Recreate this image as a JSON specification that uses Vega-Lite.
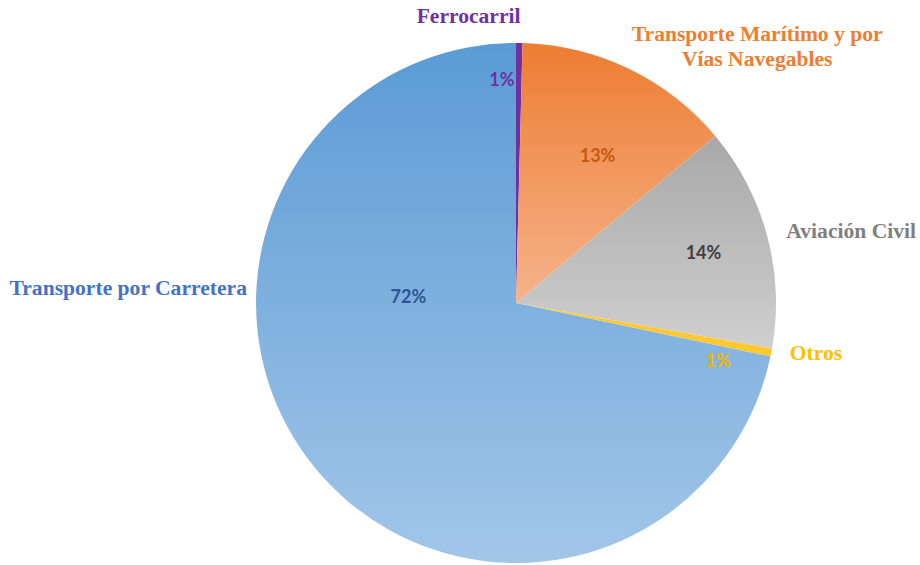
{
  "$schema": "https://vega.github.io/schema/vega-lite/v6.json",
  "width": 520,
  "height": 520,
  "autosize": {"type": "none"},
  "padding": {"left": 256, "top": 43, "right": 144, "bottom": 2},
  "background": "white",
  "config": {"view": {"stroke": null}},
  "data": {
    "values": [
      {"cat": "Ferrocarril", "o": 1, "v": 0.4, "name": "Ferrocarril", "pct": "1%"},
      {"cat": "Maritimo", "o": 2, "v": 13.5, "name": "Transporte Marítimo y por\nVías Navegables", "pct": "13%"},
      {"cat": "Aviacion", "o": 3, "v": 13.9, "name": "Aviación Civil", "pct": "14%"},
      {"cat": "Otros", "o": 4, "v": 0.5, "name": "Otros", "pct": "1%"},
      {"cat": "Carretera", "o": 5, "v": 71.7, "name": "Transporte por Carretera", "pct": "72%"}
    ]
  },
  "encoding": {
    "theta": {"field": "v", "type": "quantitative", "stack": true},
    "order": {"field": "o", "type": "quantitative"}
  },
  "layer": [
    {
      "mark": {"type": "arc"},
      "encoding": {
        "color": {
          "condition": [
            {"test": "datum.cat === 'Ferrocarril'", "value": "#7030a0"},
            {"test": "datum.cat === 'Maritimo'", "value": {"gradient": "linear", "x1": 0, "y1": 0, "x2": 0, "y2": 1, "stops": [{"offset": 0, "color": "#ed7d31"}, {"offset": 1, "color": "#f6b38c"}]}},
            {"test": "datum.cat === 'Aviacion'", "value": {"gradient": "linear", "x1": 0, "y1": 0, "x2": 0, "y2": 1, "stops": [{"offset": 0, "color": "#a8a8a8"}, {"offset": 1, "color": "#cfcfcf"}]}},
            {"test": "datum.cat === 'Otros'", "value": "#ffc936"}
          ],
          "value": {"gradient": "linear", "x1": 0, "y1": 0, "x2": 0, "y2": 1, "stops": [{"offset": 0, "color": "#5b9bd5"}, {"offset": 1, "color": "#a2c6e8"}]}
        }
      }
    },
    {
      "mark": {"type": "text", "radius": 222, "dx": -17, "dy": 0, "font": "Lato", "fontWeight": "bold", "fontSize": 18, "baseline": "middle", "align": "center", "color": "#7030a0"},
      "encoding": {"text": {"condition": {"test": "datum.cat === 'Ferrocarril'", "field": "pct"}, "value": ""}}
    },
    {
      "mark": {"type": "text", "radius": 167, "dx": 9, "dy": 4, "font": "Lato", "fontWeight": "bold", "fontSize": 18, "baseline": "middle", "align": "center", "color": "#c55a11"},
      "encoding": {"text": {"condition": {"test": "datum.cat === 'Maritimo'", "field": "pct"}, "value": ""}}
    },
    {
      "mark": {"type": "text", "radius": 194, "dx": 0, "dy": 1.5, "font": "Lato", "fontWeight": "bold", "fontSize": 18, "baseline": "middle", "align": "center", "color": "#404040"},
      "encoding": {"text": {"condition": {"test": "datum.cat === 'Aviacion'", "field": "pct"}, "value": ""}}
    },
    {
      "mark": {"type": "text", "radius": 211, "dx": -5, "dy": 19, "font": "Lato", "fontWeight": "bold", "fontSize": 18, "baseline": "middle", "align": "center", "color": "#f2b600"},
      "encoding": {"text": {"condition": {"test": "datum.cat === 'Otros'", "field": "pct"}, "value": ""}}
    },
    {
      "mark": {"type": "text", "radius": 109, "dx": -23, "dy": -74, "font": "Lato", "fontWeight": "bold", "fontSize": 18, "baseline": "middle", "align": "center", "color": "#2f5597"},
      "encoding": {"text": {"condition": {"test": "datum.cat === 'Carretera'", "field": "pct"}, "value": ""}}
    },
    {
      "mark": {"type": "text", "radius": 286, "dx": -51, "dy": 0, "font": "Liberation Serif", "fontWeight": "bold", "fontSize": 21.6, "baseline": "middle", "align": "center", "color": "#7030a0"},
      "encoding": {"text": {"condition": {"test": "datum.cat === 'Ferrocarril'", "field": "name"}, "value": ""}}
    },
    {
      "mark": {"type": "text", "radius": 286, "dx": 117, "dy": -10, "font": "Liberation Serif", "fontWeight": "bold", "fontSize": 21.6, "lineHeight": 25, "lineBreak": "\n", "baseline": "middle", "align": "center", "color": "#ed7d31"},
      "encoding": {"text": {"condition": {"test": "datum.cat === 'Maritimo'", "field": "name"}, "value": ""}}
    },
    {
      "mark": {"type": "text", "radius": 286, "dx": -6, "dy": 3, "font": "Liberation Serif", "fontWeight": "bold", "fontSize": 21.6, "baseline": "middle", "align": "left", "color": "#7f7f7f"},
      "encoding": {"text": {"condition": {"test": "datum.cat === 'Aviacion'", "field": "name"}, "value": ""}}
    },
    {
      "mark": {"type": "text", "radius": 286, "dx": -7, "dy": -3, "font": "Liberation Serif", "fontWeight": "bold", "fontSize": 21.6, "baseline": "middle", "align": "left", "color": "#ffc000"},
      "encoding": {"text": {"condition": {"test": "datum.cat === 'Otros'", "field": "name"}, "value": ""}}
    },
    {
      "mark": {"type": "text", "radius": 286, "dx": -47, "dy": -194, "font": "Liberation Serif", "fontWeight": "bold", "fontSize": 21.6, "baseline": "middle", "align": "right", "color": "#4472c4"},
      "encoding": {"text": {"condition": {"test": "datum.cat === 'Carretera'", "field": "name"}, "value": ""}}
    }
  ]
}
